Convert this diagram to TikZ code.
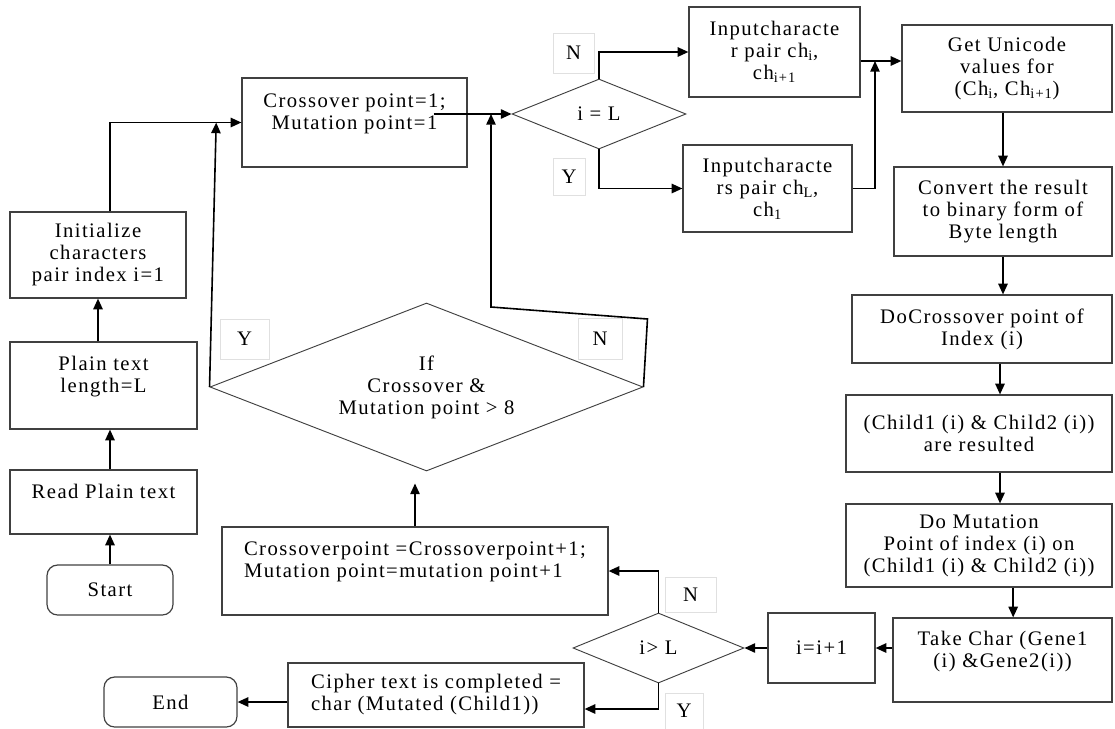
\documentclass[tikz,border=0pt]{standalone}
\usepackage{fontspec}
\setmainfont{Liberation Serif}[LetterSpace=7]
\usetikzlibrary{arrows.meta,shapes.geometric}

\begin{document}
\begin{tikzpicture}[x=0.75pt,y=-0.75pt,
  every node/.style={font=\fontsize{15.5}{16.5}\selectfont},
  box/.style={draw=black!75, line width=0.9pt, align=center, inner sep=2pt},
  term/.style={box, rounded corners=8pt},
  decision/.style={draw=black!75, line width=0.7pt, diamond, aspect=2.5, inner sep=0pt, align=center},
  tag/.style={draw=black!12, line width=0.6pt, inner sep=0pt},
  arr/.style={-{Triangle[length=8pt,width=7pt]}, line width=1.2pt}]
\useasboundingbox (0,0) rectangle (1115,729);
% left column
\node[term, minimum width=94.5pt, minimum height=37.5pt] (start) at (110,590) {Start};
\node[box, minimum width=140.25pt, minimum height=48pt] (read) at (103.5,502) {Read Plain text\\ \mbox{}};
\node[box, minimum width=140.25pt, minimum height=65.25pt] (plain) at (103.5,385.5) {Plain text\\length=L\\ \mbox{}};
\node[box, minimum width=132pt, minimum height=64.5pt] (init) at (98,255) {Initialize\\characters\\pair index i=1};
% top row
\node[box, minimum width=168.75pt, minimum height=66.75pt] (cross) at (354.5,122.5) {Crossover point=1;\\Mutation point=1\\ \mbox{}};
\node[decision, minimum width=130.5pt, minimum height=52.5pt] (ieqL) at (599,114) {i = L};
\node[box, minimum width=128.25pt, minimum height=67.5pt] (in1) at (774.5,52) {Inputcharacte\\r pair ch\textsubscript{i},\\ch\textsubscript{i+1}};
\node[box, minimum width=126.75pt, minimum height=65.25pt] (in2) at (767.5,188.5) {Inputcharacte\\rs pair ch\textsubscript{L},\\ch\textsubscript{1}};
% right column
\node[box, minimum width=157.5pt, minimum height=65.25pt] (unicode) at (1007,68.5) {Get Unicode\\values for\\(Ch\textsubscript{i}, Ch\textsubscript{i+1})};
\node[box, minimum width=163.5pt, minimum height=66.75pt] (convert) at (1003,211.5) {Convert the result\\to binary form of\\Byte length};
\node[box, minimum width=195pt, minimum height=51pt] (docross) at (982,329) {DoCrossover point of\\Index (i)};
\node[box, minimum width=199.5pt, minimum height=57.75pt] (child) at (979,433.5) {(Child1 (i) \& Child2 (i))\\are resulted};
\node[box, minimum width=199.5pt, minimum height=62.25pt] (mutate) at (979,545.5) {Do Mutation\\Point of index (i) on\\(Child1 (i) \& Child2 (i))};
\node[box, minimum width=164.25pt, minimum height=63pt] (take) at (1002.5,660) {Take Char (Gene1\\(i) \&Gene2(i))\\ \mbox{}};
% bottom row
\node[box, minimum width=80.25pt, minimum height=52.5pt] (incr) at (821.5,648) {i=i+1};
\node[decision, minimum width=128.25pt, minimum height=52.5pt] (igtL) at (658.5,648) {i> L};
\node[box, align=left, minimum width=289.5pt, minimum height=66pt] (update) at (415,571) {Crossoverpoint =Crossoverpoint+1;\\Mutation point=mutation point+1\\ \mbox{}};
\node[box, align=left, minimum width=222pt, minimum height=48pt] (cipher) at (436,695) {Cipher text is completed =\\char (Mutated (Child1))};
\node[term, minimum width=99.75pt, minimum height=37.5pt] (end) at (170.5,702) {End};
% Y/N tags
\node[tag, minimum width=30.75pt, minimum height=30pt] (tn1) at (573.5,53) {N};
\node[tag, minimum width=24pt, minimum height=27.75pt] (ty1) at (569,176.5) {Y};
\node[tag, minimum width=36.75pt, minimum height=30pt] (ty2) at (244.5,339) {Y};
\node[tag, minimum width=33pt, minimum height=30.75pt] (tn2) at (600,338.5) {N};
\node[tag, minimum width=38.25pt, minimum height=26.25pt] (tn3) at (690.5,594.5) {N};
\node[tag, minimum width=28.5pt, minimum height=27pt] (ty3) at (684,711) {Y};
\node[decision, aspect=2.58, minimum width=324.75pt, minimum height=126pt] (check) at (426.5,387) {If\\Crossover \&\\Mutation point > 8};
\coordinate (jn) at (875,61);
\coordinate (nb) at (491,307);
% connectors
\draw[arr] (start.north) -- (start.north |- read.south);
\draw[arr] (read.north -| start.north) -- (plain.south -| start.north);
\draw[arr] (plain.north -| init.south) -- (init.south);
\draw[arr] (init.north -| start.north) |- (cross.west);
\draw[arr] ([xshift=-25.5pt]cross.east |- ieqL.west) -- (ieqL.west);
\draw[arr] (ieqL.north) |- (in1.west);
\draw[arr] (ieqL.south) |- (in2.west);
\draw[arr] (in1.east |- jn) -- (unicode.west |- jn);
\draw[arr] (in2.east) -| (jn);
\draw[arr] (convert.north |- unicode.south) -- (convert.north);
\draw[arr] (convert.south) -- (convert.south |- docross.north);
\draw[arr] ([xshift=13.5pt]docross.south) -- ([xshift=13.5pt]docross.south |- child.north);
\draw[arr] ([xshift=15.75pt]child.south) -- ([xshift=15.75pt]mutate.north);
\draw[arr] ([xshift=8pt]take.north |- mutate.south) -- ([xshift=8pt]take.north);
\draw[arr] (take.west |- incr.east) -- (incr.east);
\draw[arr] (incr.west) -- (igtL.east);
\draw[arr] (igtL.north) |- (update.east);
\draw[arr] (igtL.south) |- ([yshift=-10.5pt]cipher.east);
\draw[arr] (cipher.west |- end.east) -- (end.east);
\draw[arr, shorten >=9pt] (update.north) -- (update.north |- check.south);
\draw[arr] (check.west) -- ([xshift=5pt]check.west |- cross.west);
\draw[arr] (check.east) -- ++(4,-68) -- (nb) -- (nb |- ieqL.west);
\end{tikzpicture}
\end{document}
